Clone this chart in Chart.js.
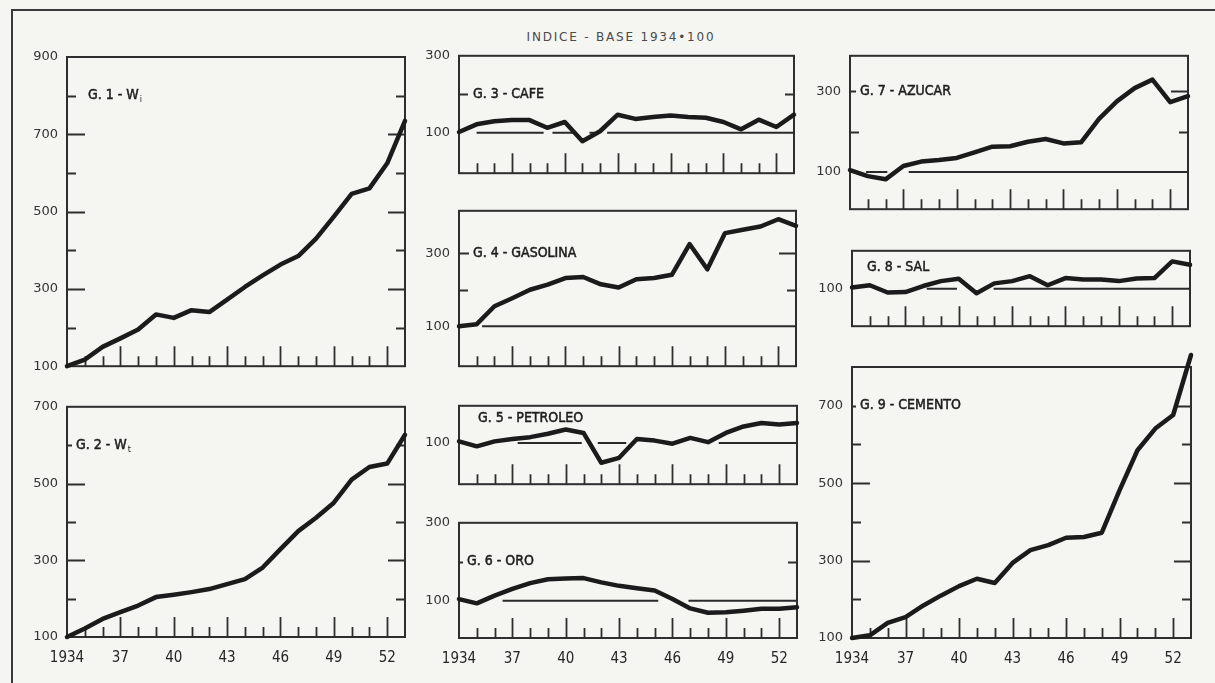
<!DOCTYPE html>
<html>
<head>
<meta charset="utf-8">
<title>Indice - base 1934=100</title>
<script src="https://cdn.jsdelivr.net/npm/chart.js@4.4.1/dist/chart.umd.min.js"></script>
<style>
  html, body { margin: 0; padding: 0; background: #f5f5f2; }
  #sheet { position: relative; width: 1215px; height: 683px; overflow: hidden; background: #f5f5f2; }
  .rule { position: absolute; background: #3a3a3a; }
  #title {
    position: absolute; left: 421px; width: 400px; top: 30px; text-align: center;
    font: 12px 'DejaVu Sans', sans-serif; letter-spacing: 1.8px; color: #4a4a4a; white-space: nowrap;
  }
  canvas { position: absolute; }
</style>
</head>
<body>
<div id="sheet">
  <div class="rule" style="left:11px;top:9px;width:1204px;height:2px;"></div>
  <div class="rule" style="left:11px;top:9px;width:2px;height:674px;"></div>
  <div id="title">INDICE - BASE 1934•100</div>
</div>
<script>
// Years covered by every panel
const years = [1934, 1935, 1936, 1937, 1938, 1939, 1940, 1941, 1942, 1943,
               1944, 1945, 1946, 1947, 1948, 1949, 1950, 1951, 1952, 1953];

// Index values, 1934 = 100
const salariosI = [100, 117, 150, 172, 195, 234, 225, 245, 240, 272, 305, 335, 363, 385, 430, 487, 546, 560, 625, 735];
const salariosT = [100, 122, 147, 165, 182, 204, 210, 217, 225, 238, 251, 281, 329, 376, 411, 450, 510, 543, 552, 627];
const cafe      = [102, 122, 130, 133, 133, 113, 128, 78, 104, 147, 136, 141, 145, 141, 139, 128, 109, 134, 115, 147];
const gasolina  = [100, 106, 155, 177, 200, 214, 232, 235, 215, 206, 229, 232, 241, 325, 256, 355, 364, 373, 393, 375];
const petroleo  = [104, 91, 104, 110, 115, 124, 135, 126, 48, 61, 110, 106, 98, 113, 102, 126, 143, 152, 148, 152];
const oro       = [104, 93, 113, 130, 145, 155, 157, 158, 147, 138, 132, 126, 104, 80, 69, 70, 74, 79, 79, 83];
const azucar    = [105, 90, 82, 115, 126, 130, 135, 149, 163, 164, 175, 182, 171, 174, 232, 275, 308, 329, 273, 288];
const sal       = [103, 109, 90, 91, 107, 120, 126, 88, 114, 120, 133, 109, 128, 124, 124, 120, 127, 128, 172, 163];
const cemento   = [100, 107, 139, 154, 184, 210, 234, 253, 242, 294, 327, 340, 359, 361, 372, 482, 585, 641, 676, 831];

// Stretches of the 100 reference line (from year, to year)
const cafeBase     = [[1935, 1938.8], [1939.3, 1940.6], [1941.4, 1941.7], [1942.4, 1953]];
const gasolinaBase = [[1935.3, 1953]];
const petroleoBase = [[1937.3, 1940.9], [1941.8, 1943.4], [1948.6, 1953]];
const oroBase      = [[1936.45, 1945.2], [1946.9, 1953]];
const azucarBase   = [[1934.9, 1936.1], [1937.3, 1953]];
const salBase      = [[1938.2, 1939.9], [1941.96, 1953]];

// Tick labels
const yearLabels = [1934, 1937, 1940, 1943, 1946, 1949, 1952];
const yearMarks  = [1935, 1936, 1937, 1938, 1939, 1940, 1941, 1942, 1943, 1944,
                    1945, 1946, 1947, 1948, 1949, 1950, 1951, 1952];

const INK = '#1b1b1b';
const FRAME = '#2e2e2e';
const LABEL_FONT = "'DejaVu Sans Condensed', 'Liberation Sans Narrow', 'DejaVu Sans', sans-serif";

const panels = [
  { title: 'G. 1 - W', sub: 'i', values: salariosI, base: [], box: [67, 405, 57, 367], yMin: 100, yMax: 900,
    yLabels: [100, 300, 500, 700, 900], tag: [21, 800], showYears: false },
  { title: 'G. 2 - W', sub: 't', values: salariosT, base: [], box: [67, 405, 407, 638], yMin: 100, yMax: 700,
    yLabels: [100, 300, 500, 700], tag: [9, 600], showYears: true },
  { title: 'G. 3 - CAFE', sub: '', values: cafe, base: cafeBase, box: [459, 794, 56, 174], yMin: -5, yMax: 300,
    yLabels: [100, 300], tag: [14, 200], showYears: false },
  { title: 'G. 4 - GASOLINA', sub: '', values: gasolina, base: gasolinaBase, box: [459, 796, 211, 367], yMin: -9, yMax: 416,
    yLabels: [100, 300], tag: [14, 300], showYears: false },
  { title: 'G. 5 - PETROLEO', sub: '', values: petroleo, base: petroleoBase, box: [459, 797, 406, 485], yMin: -8, yMax: 197,
    yLabels: [100], tag: [19, 163], showYears: false },
  { title: 'G. 6 - ORO', sub: '', values: oro, base: oroBase, box: [459, 797, 523, 639], yMin: 4, yMax: 300,
    yLabels: [100, 300], tag: [8, 200], showYears: true },
  { title: 'G. 7 - AZUCAR', sub: '', values: azucar, base: azucarBase, box: [850, 1188, 56, 210], yMin: 8, yMax: 388,
    yLabels: [100, 300], tag: [10, 300], showYears: false },
  { title: 'G. 8 - SAL', sub: '', values: sal, base: salBase, box: [852, 1190, 251, 327], yMin: 1, yMax: 200,
    yLabels: [100], tag: [15, 155], showYears: false },
  { title: 'G. 9 - CEMENTO', sub: '', values: cemento, base: [], box: [852, 1191, 367, 638], yMin: 100, yMax: 800,
    yLabels: [100, 300, 500, 700], tag: [8, 700], showYears: true }
];

// Frame, inward tick marks and the panel caption
const panelDecor = {
  id: 'panelDecor',
  beforeDatasetsDraw(chart, args, opts) {
    const { ctx, chartArea: a, scales: { x, y } } = chart;
    ctx.save();
    ctx.strokeStyle = FRAME;
    ctx.lineWidth = 2;
    ctx.strokeRect(a.left, a.top, a.right - a.left, a.bottom - a.top);

    ctx.lineWidth = 1.8;
    ctx.beginPath();
    yearMarks.forEach(yr => {
      const px = Math.round(x.getPixelForValue(yr)) + 0.5;
      const len = (yr - 1934) % 3 === 0 ? 20 : 10;
      ctx.moveTo(px, a.bottom);
      ctx.lineTo(px, a.bottom - len);
    });
    const first = Math.ceil(opts.yMin / 100) * 100;
    for (let v = first; v <= opts.yMax; v += 100) {
      if (v === 100) continue;
      if (v - opts.yMin < 20 || opts.yMax - v < 20) continue;
      const py = Math.round(y.getPixelForValue(v)) + 0.5;
      const major = opts.yLabels.includes(v);
      let left = major ? 18 : 9;
      if (v === opts.tag[1]) left = Math.min(left, opts.tag[0] - 4);
      const right = major ? 17 : 9;
      ctx.moveTo(a.left, py); ctx.lineTo(a.left + left, py);
      ctx.moveTo(a.right, py); ctx.lineTo(a.right - right, py);
    }
    ctx.stroke();
    ctx.restore();
  },
  afterDatasetsDraw(chart, args, opts) {
    const { ctx, chartArea: a, scales: { y } } = chart;
    ctx.save();
    ctx.fillStyle = '#1e1e1e';
    ctx.strokeStyle = '#1e1e1e';
    ctx.lineWidth = 0.5;
    ctx.textBaseline = 'middle';
    ctx.font = '14px ' + LABEL_FONT;
    const tx = a.left + opts.tag[0];
    const ty = y.getPixelForValue(opts.tag[1]);
    ctx.fillText(opts.title, tx, ty);
    ctx.strokeText(opts.title, tx, ty);
    if (opts.sub) {
      const w = ctx.measureText(opts.title).width;
      ctx.font = '9px ' + LABEL_FONT;
      ctx.fillText(opts.sub, tx + w + 1, ty + 4);
    }
    ctx.restore();
  }
};

const sheet = document.getElementById('sheet');

function toSegments(ranges) {
  const pts = [];
  ranges.forEach(([from, to]) => {
    pts.push({ x: from, y: 100 }, { x: to, y: 100 }, { x: to, y: null });
  });
  return pts;
}

function build(p, padL, padR, padT, padB, w, h) {
  const canvas = document.createElement('canvas');
  canvas.width = w;
  canvas.height = h;
  canvas.style.left = (p.box[0] - padL) + 'px';
  canvas.style.top = (p.box[2] - padT) + 'px';
  sheet.appendChild(canvas);

  const chart = new Chart(canvas, {
    type: 'line',
    data: {
      datasets: [
        {
          data: toSegments(p.base),
          borderColor: '#2a2a2a', borderWidth: 2, pointRadius: 0, spanGaps: false, order: 2
        },
        {
          data: years.map((yr, i) => ({ x: yr, y: p.values[i] })),
          borderColor: INK, borderWidth: 4.5, pointRadius: 0, tension: 0,
          borderJoinStyle: 'round', borderCapStyle: 'round', clip: false, order: 1
        }
      ]
    },
    options: {
      responsive: false,
      animation: false,
      events: [],
      layout: { padding: { left: 0, right: padR, top: padT, bottom: 0 } },
      plugins: {
        legend: { display: false },
        tooltip: { enabled: false },
        panelDecor: { title: p.title, sub: p.sub, tag: p.tag, yMin: p.yMin, yMax: p.yMax, yLabels: p.yLabels }
      },
      scales: {
        x: {
          type: 'linear', min: 1934, max: 1953,
          grid: { display: false, drawTicks: false },
          border: { display: false },
          afterBuildTicks: s => { s.ticks = yearLabels.map(v => ({ value: v })); },
          afterFit: s => { s.height = padB; },
          ticks: {
            display: p.showYears, autoSkip: false, maxRotation: 0, padding: 12,
            color: '#262626', font: { family: LABEL_FONT, size: 15 },
            callback: v => (v === 1934 ? '1934' : String(v).slice(2))
          }
        },
        y: {
          type: 'linear', min: p.yMin, max: p.yMax,
          grid: { display: false, drawTicks: false },
          border: { display: false },
          afterBuildTicks: s => { s.ticks = p.yLabels.map(v => ({ value: v })); },
          afterFit: s => { s.width = padL; },
          ticks: {
            padding: 9, color: '#333',
            font: { family: "'DejaVu Sans', sans-serif", size: 13 }
          }
        }
      }
    },
    plugins: [panelDecor]
  });
  return { chart, canvas };
}

panels.forEach(p => {
  const padL = 56, padR = 14;
  const padT = p.yMax > 790 ? 24 : 12;
  const padB = p.showYears ? 36 : 12;
  const [L, R, T, B] = p.box;
  let w = (R - L) + padL + padR;
  let h = (B - T) + padT + padB;
  let built = build(p, padL, padR, padT, padB, w, h);
  const a = built.chart.chartArea;
  const dw = (R - L) - (a.right - a.left);
  const dh = (B - T) - (a.bottom - a.top);
  if (Math.abs(dw) > 0.5 || Math.abs(dh) > 0.5) {
    built.chart.destroy();
    built.canvas.remove();
    built = build(p, padL, padR, padT, padB, w + dw, h + dh);
  }
  const area = built.chart.chartArea;
  built.canvas.style.left = (L - area.left) + 'px';
  built.canvas.style.top = (T - area.top) + 'px';
});
</script>
</body>
</html>
